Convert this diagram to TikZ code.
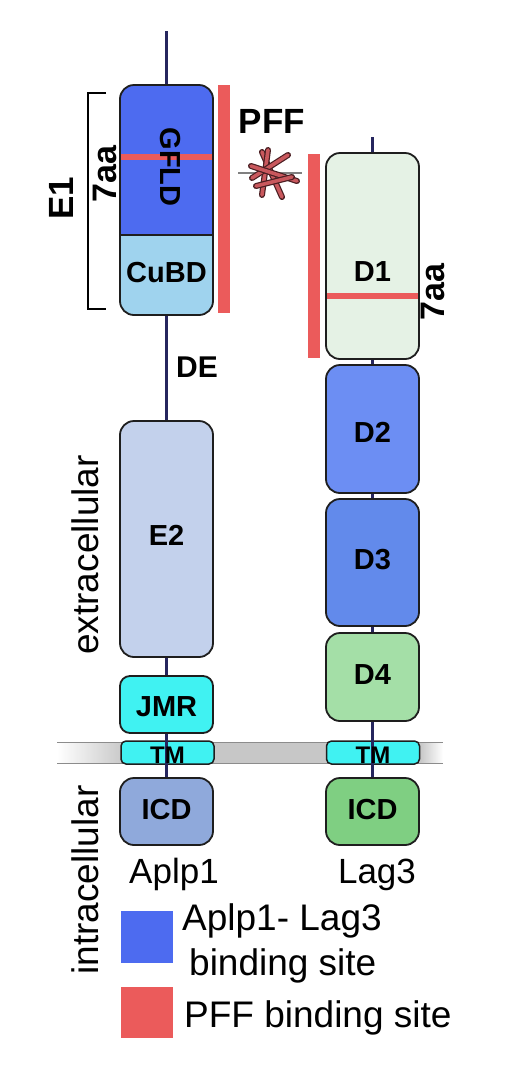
\documentclass[tikz,border=0pt]{standalone}
\usepackage{fontspec}
\setmainfont{Liberation Sans}
\definecolor{bindblue}{HTML}{4D6BF0}
\definecolor{cubdcol}{HTML}{9FD3EE}
\definecolor{e2col}{HTML}{C3D1EC}
\definecolor{cyancol}{HTML}{40F2F2}
\definecolor{icdA}{HTML}{8FA9DB}
\definecolor{d1col}{HTML}{E5F2E5}
\definecolor{d2col}{HTML}{6C8EF3}
\definecolor{d3col}{HTML}{628AEB}
\definecolor{d4col}{HTML}{A4DFA7}
\definecolor{icdL}{HTML}{7FCF82}
\definecolor{pffred}{HTML}{EB5B5B}
\definecolor{navy}{HTML}{26265E}
\definecolor{bordercol}{HTML}{1E1E1E}
\definecolor{rodred}{HTML}{C9585D}
\definecolor{roddark}{HTML}{4A1E22}
\tikzset{
  domainbox/.style={draw=bordercol, line width=1.8pt, rounded corners=14pt, minimum width=93pt, inner sep=0pt},
  tmbox/.style={draw=bordercol, line width=1.5pt, rounded corners=5pt, minimum width=93pt, minimum height=23pt, inner sep=0pt, fill=cyancol},
  lab/.style={font=\bfseries\fontsize{29}{29}\selectfont, inner sep=0pt},
  conn/.style={draw=navy, line width=3pt},
  redbar/.style={fill=pffred},
  redline/.style={draw=pffred, line width=6pt},
  rodout/.style={draw=roddark, line width=6pt, line cap=round},
  rodin/.style={draw=rodred, line width=3.6pt, line cap=round},
}
\begin{document}
\begin{tikzpicture}[x=1pt,y=-1pt]
\useasboundingbox (0,0) rectangle (506,1077);
\fill[white] (0,0) rectangle (506,1077);

% membrane
\shade[left color=white, right color=black!22] (57,742) rectangle (125,763);
\fill[black!22] (125,742) rectangle (420,763);
\shade[left color=black!22, right color=white] (420,742) rectangle (443,763);
\draw[black!45, line width=0.8pt] (57,742) -- (443,742);
\draw[black!45, line width=0.8pt] (57,763) -- (443,763);

% connectors (behind boxes)
\coordinate (topA) at (166.5,31);
\coordinate (topL) at (372.5,137);

% ---------- Aplp1 ----------
\fill[cubdcol, rounded corners=14pt] (120,85) rectangle (213,315);
\begin{scope}
  \clip[rounded corners=14pt] (120,85) rectangle (213,315);
  \fill[bindblue] (120,85) rectangle (213,235);
\end{scope}
\draw[bordercol, line width=1.5pt] (120,235) -- (213,235);
\draw[redline] (121,157) -- (212,157);
\node[domainbox, minimum height=230pt] (e1) at (166.5,200) {};
\node[lab, rotate=-90] (gfld) at (170,167) {GFLD};
\node[lab] (cubd) at (166.5,273) {CuBD};

\node[domainbox, fill=e2col, minimum height=236pt] (e2) at (166.5,539) {};
\node[lab] (e2lab) at (166.5,535) {E2};
\node[domainbox, fill=cyancol, minimum height=57pt, rounded corners=10pt] (jmr) at (166.5,704.5) {};
\node[lab] (jmrlab) at (166.5,707) {JMR};
\node[tmbox] (tmA) at (167.5,752.5) {};
\node[domainbox, fill=icdA, minimum height=67pt] (icdA) at (166.5,811.5) {};
\node[lab] (icdAlab) at (166.5,810) {ICD};

\draw[conn] (topA) -- (e1.north);
\draw[conn] (e1.south) -- (e2.north);
\draw[conn] (e2.south) -- (jmr.north);
\draw[conn] (jmr.south) -- (icdA.north);
\node[font=\bfseries\fontsize{24}{24}\selectfont, inner sep=0pt] (tmAlab) at (167.5,755) {TM};

% red bar Aplp1
\fill[redbar] (218,85) rectangle (230,313);

% bracket and labels
\draw[black, line width=1.2pt] (106,93) -- (88,93) -- (88,309) -- (106,309);
\node[font=\bfseries\fontsize{34}{34}\selectfont, inner sep=0pt, rotate=90] (aaA) at (105,174) {7aa};
\node[font=\bfseries\fontsize{35}{35}\selectfont, inner sep=0pt, rotate=90] (E1lab) at (61,198) {E1};
\node[font=\bfseries\fontsize{30}{30}\selectfont, inner sep=0pt] (de) at (197,367) {DE};

% PFF label and fibril icon
\node[font=\bfseries\fontsize{35}{35}\selectfont, inner sep=0pt] (pff) at (272,121) {PFF};
\draw[black!50, line width=2.5pt] (238,173) -- (302,173);
\foreach \a/\b in {{(262,152)/(282,197)},{(268,150)/(262,195)},{(252,178)/(288,155)},{(251,166)/(297,181)},{(256,186)/(292,177)}}{
  \draw[rodout] \a -- \b;
  \draw[rodin] \a -- \b;
}

% ---------- Lag3 ----------
\node[domainbox, fill=d1col, minimum height=206pt] (d1) at (372.5,256) {};
\draw[redline] (327,296) -- (418,296);
\node[lab] (d1lab) at (372.5,272) {D1};
\node[domainbox, fill=d2col, minimum height=128pt] (d2) at (372.5,429) {};
\node[lab] (d2lab) at (372.5,432) {D2};
\node[domainbox, fill=d3col, minimum height=127pt] (d3) at (372.5,562.5) {};
\node[lab] (d3lab) at (372.5,560) {D3};
\node[domainbox, fill=d4col, minimum height=88pt] (d4) at (372.5,677) {};
\node[lab] (d4lab) at (372.5,675) {D4};
\node[tmbox] (tmL) at (373,752.5) {};
\node[domainbox, fill=icdL, minimum height=67pt] (icdL) at (372.5,811.5) {};
\node[lab] (icdLlab) at (372.5,810) {ICD};

\draw[conn] (topL) -- (d1.north);
\draw[conn] (d1.south) -- (d2.north);
\draw[conn] (d2.south) -- (d3.north);
\draw[conn] (d3.south) -- (d4.north);
\draw[conn] (d4.south) -- (icdL.north);
\node[font=\bfseries\fontsize{24}{24}\selectfont, inner sep=0pt] (tmLlab) at (373,755) {TM};

\fill[redbar] (308,154) rectangle (320,358);
\node[font=\bfseries\fontsize{34}{34}\selectfont, inner sep=0pt, rotate=90] (aaL) at (433,292) {7aa};

% names
\node[font=\fontsize{35}{35}\selectfont, inner sep=0pt, anchor=base] (aplp) at (174,883) {Aplp1};
\node[font=\fontsize{35}{35}\selectfont, inner sep=0pt, anchor=base] (lag) at (377,883) {Lag3};

% side labels
\node[font=\fontsize{37}{37}\selectfont, inner sep=0pt, rotate=90] (extra) at (85,555) {extracellular};
\node[font=\fontsize{37}{37}\selectfont, inner sep=0pt, rotate=90] (intra) at (85,880) {intracellular};

% legend
\fill[bindblue] (121,911) rectangle (173,963);
\fill[pffred] (121,987) rectangle (173,1038);
\node[font=\fontsize{37}{37}\selectfont, inner sep=0pt, anchor=base west] (leg1) at (182,930) {Aplp1- Lag3};
\node[font=\fontsize{37}{37}\selectfont, inner sep=0pt, anchor=base west] (leg2) at (189,975) {binding site};
\node[font=\fontsize{37}{37}\selectfont, inner sep=0pt, anchor=base west] (leg3) at (184,1027) {PFF binding site};
\end{tikzpicture}
\end{document}
